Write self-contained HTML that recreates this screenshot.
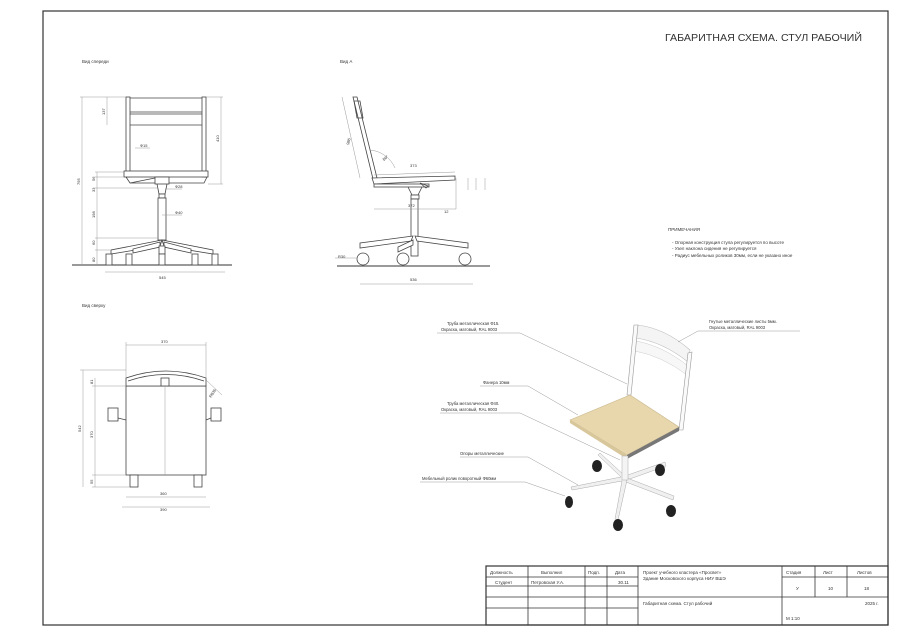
<!DOCTYPE html>
<html><head><meta charset="utf-8"><style>
body{margin:0;background:#fff}
svg{display:block}
text{font-family:"Liberation Sans","Noto Sans CJK SC",sans-serif;fill:#333}
.t{font-size:4.5px}
.d{stroke:#999;stroke-width:0.5;fill:none}
.l{stroke:#444;stroke-width:0.8;fill:none}
.f{stroke:#444;stroke-width:0.8;fill:#fff}
</style></head><body>
<svg width="900" height="636" viewBox="0 0 900 636" xmlns="http://www.w3.org/2000/svg">
<rect x="43" y="11" width="845" height="614" fill="none" stroke="#333" stroke-width="1.2"/>
<text x="665" y="41" font-size="10.5" textLength="197" lengthAdjust="spacingAndGlyphs" fill="#222">ГАБАРИТНАЯ СХЕМА. СТУЛ РАБОЧИЙ</text>

<!-- notes -->
<text x="668" y="231" class="t">ПРИМЕЧАНИЯ</text>
<text x="672" y="244" class="t">-     Опорная конструкция стула регулируется по высоте</text>
<text x="672" y="250" class="t">-     Узел наклона сидения не регулируется</text>
<text x="672" y="257" class="t">-     Радиус мебельных роликов 30мм, если не указано иное</text>

<!-- FRONT VIEW -->
<text x="82" y="63" class="t">Вид спереди</text>
<line x1="72" y1="265" x2="232" y2="265" stroke="#333" stroke-width="1"/>
<rect x="126" y="97" width="4" height="80" class="f"/>
<rect x="202" y="97" width="4" height="80" class="f"/>
<line x1="130" y1="98" x2="202" y2="98" class="l"/>
<line x1="130" y1="112" x2="202" y2="112" class="l"/>
<line x1="130" y1="114" x2="202" y2="114" class="l"/>
<line x1="130" y1="125" x2="202" y2="125" class="l"/>
<rect x="124" y="171" width="84" height="6" class="f"/>
<path d="M126 177 L130 183 L204 183 L207 177" class="l"/>
<line x1="130" y1="183" x2="155" y2="178" class="l"/>
<rect x="155" y="177" width="14" height="7" class="f"/>
<path d="M157 184 L159 194 L165 194 L167 184" class="l"/>
<rect x="159" y="194" width="6" height="4" class="f"/>
<rect x="158" y="198" width="8" height="42" class="f"/>
<path d="M162 240 L111 250 L111 254 L160 246 Z" class="f"/>
<path d="M162 240 L213 250 L213 254 L164 246 Z" class="f"/>
<path d="M160 242 L133 249 L133 253 L160 247Z" class="f"/>
<path d="M164 242 L191 249 L191 253 L164 247Z" class="f"/>
<rect x="159" y="246" width="6" height="8" class="f"/>
<g class="f">
<rect x="106" y="254" width="6" height="11"/><rect x="126" y="254" width="6" height="11"/><rect x="159" y="254" width="6" height="11"/><rect x="192" y="254" width="6" height="11"/><rect x="212" y="254" width="6" height="11"/>
</g>
<g class="d">
<line x1="82" y1="97" x2="82" y2="265"/><line x1="80" y1="97" x2="126" y2="97"/>
<line x1="97" y1="172" x2="97" y2="265"/><line x1="95" y1="172" x2="124" y2="172"/>
<line x1="95" y1="177" x2="124" y2="177"/><line x1="95" y1="188" x2="158" y2="188"/>
<line x1="95" y1="238" x2="158" y2="238"/><line x1="95" y1="250" x2="110" y2="250"/>
<line x1="107" y1="97" x2="107" y2="125"/>
<line x1="221" y1="97" x2="221" y2="184"/><line x1="206" y1="97" x2="223" y2="97"/><line x1="208" y1="184" x2="223" y2="184"/>
<line x1="105" y1="272" x2="225" y2="272"/>
<line x1="135" y1="148" x2="150" y2="148"/><line x1="165" y1="189" x2="182" y2="189"/><line x1="162" y1="215" x2="182" y2="215"/>
</g>
<g font-size="4" fill="#666">
<text x="80" y="185" transform="rotate(-90 80 185)">795</text>
<text x="95" y="218" transform="rotate(-90 95 218)">198</text>
<text x="95" y="245" transform="rotate(-90 95 245)">60</text>
<text x="95" y="262" transform="rotate(-90 95 262)">80</text>
<text x="95" y="181" transform="rotate(-90 95 181)">56</text>
<text x="95" y="192" transform="rotate(-90 95 192)">33</text>
<text x="105" y="115" transform="rotate(-90 105 115)">137</text>
<text x="219" y="142" transform="rotate(-90 219 142)">410</text>
<text x="140" y="147">Ф15</text><text x="175" y="188">Ф28</text><text x="175" y="214">Ф40</text>
<text x="159" y="279">545</text>
</g>

<!-- SIDE VIEW -->
<text x="340" y="63" class="t">Вид А</text>
<line x1="337" y1="266" x2="490" y2="266" stroke="#333" stroke-width="1"/>
<path d="M353 97 L357 97 L377 178 L373 179 Z" class="f"/>
<path d="M354 101 L360 101 L363 118 L357 118Z" class="l"/>
<path d="M372 178 L455 176 L455 180 L374 184 Z" class="f"/>
<rect x="374" y="184" width="55" height="3" class="f"/>
<path d="M420 183 L428 186 L426 188 Z" class="l"/>
<path d="M408 187 L412 195 L418 195 L422 187" class="l"/>
<rect x="411" y="195" width="8" height="4" class="f"/>
<rect x="411" y="199" width="7" height="57" class="f"/>
<path d="M413 236 L360 243 L360 248 L411 241Z" class="f"/>
<path d="M415 236 L468 243 L468 248 L417 241Z" class="f"/>
<path d="M413 240 L398 247 L398 252 L413 245Z" class="f"/>
<g class="f"><circle cx="363" cy="259" r="6"/><circle cx="403" cy="259" r="6"/><circle cx="465" cy="259" r="6"/></g>
<g class="d">
<line x1="342" y1="97" x2="360" y2="178"/><line x1="374" y1="175" x2="455" y2="172"/>
<line x1="374" y1="209" x2="456" y2="209"/><line x1="456" y1="178" x2="456" y2="209"/>
<line x1="468" y1="178" x2="468" y2="190"/><line x1="476" y1="178" x2="476" y2="190"/><line x1="485" y1="178" x2="485" y2="190"/>
<line x1="360" y1="284" x2="473" y2="284"/>
<path d="M370 150 A 30 30 0 0 1 395 168"/>
<line x1="335" y1="258" x2="357" y2="258"/>
</g>
<g font-size="4" fill="#666">
<text x="349" y="145" transform="rotate(-75 349 145)">986</text>
<text x="410" y="167">373</text><text x="408" y="207">372</text><text x="444" y="213">12</text>
<text x="384" y="161" transform="rotate(-40 384 161)">86°</text>
<text x="338" y="258">R30</text><text x="410" y="281">536</text>
</g>

<!-- TOP VIEW -->
<text x="82" y="307" class="t">Вид сверху</text>
<rect x="126" y="386" width="80" height="89" class="f"/>
<path d="M126 378 Q166 364 206 378 L206 386 L126 386 Z" class="f"/>
<path d="M128 381 Q166 368 204 381" class="l"/>
<rect x="161" y="378" width="8" height="8" class="f"/>
<line x1="165" y1="386" x2="165" y2="475" class="d"/>
<g class="f"><rect x="108" y="408" width="10" height="13"/><rect x="211" y="408" width="10" height="13"/><rect x="130" y="475" width="8" height="12"/><rect x="194" y="475" width="8" height="12"/></g>
<line x1="118" y1="418" x2="126" y2="420" class="l"/><line x1="211" y1="418" x2="206" y2="420" class="l"/>
<g class="d">
<line x1="126" y1="345" x2="206" y2="345"/><line x1="126" y1="342" x2="126" y2="378"/><line x1="206" y1="342" x2="206" y2="378"/>
<line x1="83" y1="370" x2="83" y2="487"/><line x1="95" y1="378" x2="95" y2="487"/>
<line x1="80" y1="370" x2="126" y2="370"/><line x1="92" y1="386" x2="126" y2="386"/><line x1="92" y1="475" x2="126" y2="475"/><line x1="92" y1="487" x2="130" y2="487"/>
<line x1="126" y1="497" x2="206" y2="497"/><line x1="122" y1="507" x2="210" y2="507"/>
<line x1="206" y1="380" x2="222" y2="395"/>
</g>
<g font-size="4" fill="#666">
<text x="161" y="343">370</text><text x="81" y="432" transform="rotate(-90 81 432)">542</text>
<text x="93" y="384" transform="rotate(-90 93 384)">81</text><text x="93" y="438" transform="rotate(-90 93 438)">370</text>
<text x="93" y="484" transform="rotate(-90 93 484)">55</text>
<text x="160" y="495">360</text><text x="160" y="511">390</text>
<text x="211" y="398" transform="rotate(-55 211 398)">R635</text>
</g>

<!-- ISO CHAIR -->
<g>
<path d="M637 325 Q665 328 690 350 L688 362 Q663 342 636 338 Z" fill="#f4f4f4" stroke="#bbb" stroke-width="0.6"/>
<path d="M636 341 Q663 346 688 366 L687 375 Q662 356 635 351Z" fill="#f7f7f7" stroke="#ccc" stroke-width="0.5"/>
<path d="M634 325 L638 325 L631 395 L627 395Z" fill="#fafafa" stroke="#999" stroke-width="0.6"/>
<path d="M688 353 L692 352 L683 430 L679 430Z" fill="#fafafa" stroke="#999" stroke-width="0.6"/>
<path d="M570 420 L630 395 L679 427 L627 455 Z" fill="#e8d6ac" stroke="#c9b98e" stroke-width="0.6"/>
<path d="M627 455 L679 427 L679 431 L627 459Z" fill="#777"/>
<path d="M570 420 L627 455 L627 459 L570 423Z" fill="#d9c79c"/>
<path d="M600 453 L625 476 L665 462 L666 466 L627 480 L618 520 L615 519 L622 481 L572 490 L571 487 L621 477 L598 455Z" fill="#f0f0f0" stroke="#aaa" stroke-width="0.5"/>
<path d="M627 478 L674 496 L673 500 L626 482Z" fill="#f0f0f0" stroke="#aaa" stroke-width="0.5"/>
<rect x="622" y="456" width="6" height="24" fill="#f4f4f4" stroke="#aaa" stroke-width="0.5"/>
<g fill="#222"><ellipse cx="597" cy="466" rx="5" ry="6"/><ellipse cx="660" cy="470" rx="5" ry="6"/><ellipse cx="569" cy="502" rx="4" ry="6"/><ellipse cx="671" cy="511" rx="5" ry="6"/><ellipse cx="618" cy="525" rx="5" ry="6"/></g>
</g>
<g class="d" stroke="#888">
<line x1="437" y1="333" x2="520" y2="333"/><line x1="520" y1="333" x2="627" y2="384"/>
<line x1="480" y1="386" x2="528" y2="386"/><line x1="528" y1="386" x2="578" y2="415"/>
<line x1="440" y1="413" x2="520" y2="413"/><line x1="520" y1="413" x2="620" y2="460"/>
<line x1="460" y1="457" x2="528" y2="457"/><line x1="528" y1="457" x2="578" y2="485"/>
<line x1="420" y1="482" x2="525" y2="482"/><line x1="525" y1="482" x2="565" y2="496"/>
<line x1="698" y1="331" x2="800" y2="331"/><line x1="698" y1="331" x2="678" y2="342"/>
</g>
<g font-size="4.2" fill="#666">
<text x="447" y="325">Труба металлическая Ф15.</text><text x="441" y="331">Окраска, матовый, RAL 9003</text>
<text x="483" y="384">Фанера 10мм</text>
<text x="447" y="405">Труба металлическая Ф40.</text><text x="441" y="411">Окраска, матовый, RAL 9003</text>
<text x="460" y="455">Опоры металлические</text>
<text x="422" y="480">Мебельный ролик поворотный Ф60мм</text>
<text x="709" y="323">Гнутые металлические листы 5мм.</text><text x="709" y="329">Окраска, матовый, RAL 9003</text>
</g>

<!-- TITLE BLOCK -->
<g stroke="#333" stroke-width="0.8" fill="none">
<rect x="486" y="566" width="402" height="59" stroke-width="1.2"/>
<line x1="486" y1="577" x2="638" y2="577"/><line x1="486" y1="586" x2="638" y2="586"/><line x1="486" y1="597" x2="888" y2="597"/><line x1="486" y1="608" x2="638" y2="608"/>
<line x1="782" y1="577" x2="888" y2="577"/>
<line x1="528" y1="566" x2="528" y2="625"/><line x1="585" y1="566" x2="585" y2="625"/><line x1="607" y1="566" x2="607" y2="625"/><line x1="638" y1="566" x2="638" y2="625"/><line x1="782" y1="566" x2="782" y2="625"/>
<line x1="815" y1="566" x2="815" y2="597"/><line x1="847" y1="566" x2="847" y2="597"/>
</g>
<g font-size="4.5" fill="#222">
<text x="490" y="574">Должность</text><text x="541" y="574">Выполнил</text><text x="588" y="574">Подп.</text><text x="615" y="574">Дата</text>
<text x="495" y="584">Студент</text><text x="531" y="584">Петровская У.А.</text><text x="618" y="584">30.11</text>
<text x="643" y="574">Проект учебного кластера «Просвет»</text><text x="643" y="580">Здание Московского корпуса НИУ ВШЭ</text>
<text x="786" y="574">Стадия</text><text x="823" y="574">Лист</text><text x="857" y="574">Листов</text>
<text x="796" y="590">У</text><text x="828" y="590">10</text><text x="864" y="590">18</text>
<text x="643" y="605">Габаритная схема. Стул рабочий</text>
<text x="865" y="605">2025 г.</text><text x="786" y="620">М 1:10</text>
</g>
</svg>
</body></html>
